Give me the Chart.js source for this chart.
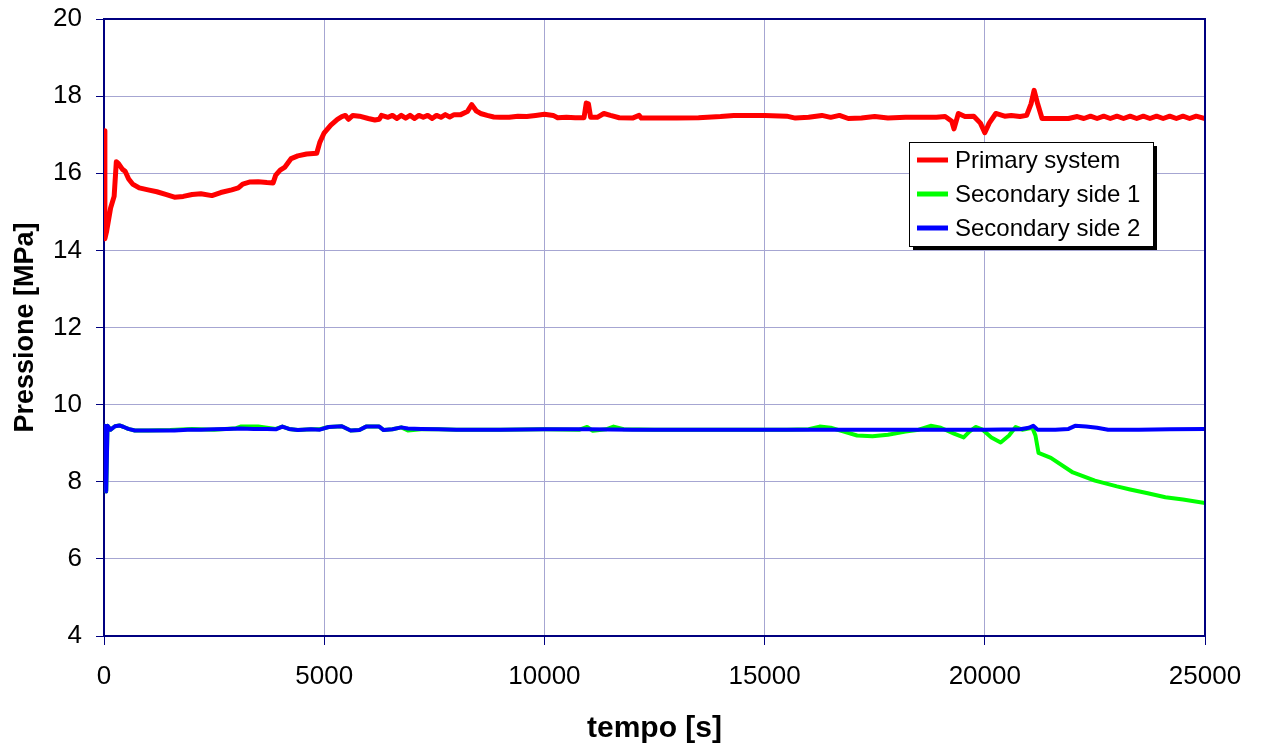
<!DOCTYPE html>
<html>
<head>
<meta charset="utf-8">
<script src="https://cdn.jsdelivr.net/npm/chart.js@4/dist/chart.umd.min.js"></script>
<style>
  html, body { margin: 0; padding: 0; background: #fff; }
  #wrap { width: 1264px; height: 749px; }
</style>
</head>
<body>
<div id="wrap"><canvas id="pressChart"></canvas></div>
<script>
// series names
const seriesNames = ['Primary system', 'Secondary side 1', 'Secondary side 2'];
const seriesColors = ['#ff0000', '#00ff00', '#0000ff'];

// axis ticks
const xTicks = [0, 5000, 10000, 15000, 20000, 25000];
const yTicks = [4, 6, 8, 10, 12, 14, 16, 18, 20];

// Primary system
const primaryT = [0, 20, 60, 150, 230, 280, 330, 420, 480, 560, 650, 800, 1000, 1200, 1400, 1600, 1800, 2000, 2200, 2450,
  2650, 2900, 3050, 3150, 3300, 3500, 3700, 3840, 3900, 4000, 4100, 4250, 4400, 4600, 4830, 4900, 5000, 5150, 5300, 5400,
  5480, 5550, 5650, 5800, 6000, 6150, 6250, 6300, 6450, 6550, 6650, 6750, 6850, 6950, 7050, 7150, 7250, 7350, 7450, 7550,
  7650, 7750, 7850, 7950, 8100, 8250, 8350, 8450, 8550, 8700, 8850, 9000, 9200, 9400, 9600, 9800, 10000, 10200, 10300, 10500,
  10700, 10900, 10950, 11000, 11050, 11200, 11350, 11500, 11700, 12000, 12150, 12200, 12500, 13000, 13500, 14000, 14300, 15000, 15500, 15700,
  16000, 16300, 16500, 16700, 16900, 17200, 17500, 17800, 18200, 18600, 18900, 19100, 19250, 19300, 19400, 19550, 19750, 19900, 20000, 20100,
  20250, 20450, 20600, 20800, 20950, 21050, 21120, 21200, 21300, 21600, 21900, 22100, 22250, 22400, 22550, 22700, 22850, 23000, 23150, 23300,
  23450, 23600, 23750, 23900, 24050, 24200, 24350, 24500, 24650, 24800, 25000];
const primaryP = [17.1, 14.3, 14.5, 15.1, 15.4, 16.3, 16.25, 16.1, 16.05, 15.85, 15.72, 15.62, 15.57, 15.52, 15.45, 15.38, 15.4, 15.45, 15.47, 15.42,
  15.5, 15.57, 15.62, 15.72, 15.77, 15.78, 15.76, 15.75, 15.95, 16.08, 16.15, 16.38, 16.45, 16.5, 16.52, 16.8, 17.05, 17.25, 17.4, 17.47,
  17.5, 17.4, 17.5, 17.48, 17.42, 17.38, 17.4, 17.5, 17.45, 17.5, 17.42, 17.5, 17.43, 17.5, 17.42, 17.5, 17.45, 17.5, 17.42, 17.5,
  17.45, 17.52, 17.46, 17.52, 17.52, 17.6, 17.78, 17.62, 17.55, 17.5, 17.46, 17.45, 17.45, 17.48, 17.47, 17.5, 17.53, 17.5, 17.44, 17.45,
  17.44, 17.44, 17.82, 17.8, 17.45, 17.45, 17.55, 17.5, 17.44, 17.43, 17.5, 17.43, 17.43, 17.43, 17.44, 17.47, 17.5, 17.5, 17.48, 17.43,
  17.45, 17.5, 17.45, 17.5, 17.42, 17.43, 17.47, 17.43, 17.45, 17.45, 17.45, 17.47, 17.35, 17.15, 17.55, 17.47, 17.48, 17.3, 17.05, 17.3,
  17.55, 17.48, 17.5, 17.47, 17.5, 17.8, 18.15, 17.8, 17.42, 17.42, 17.42, 17.47, 17.42, 17.48, 17.42, 17.48, 17.42, 17.48, 17.42, 17.48,
  17.42, 17.48, 17.42, 17.48, 17.42, 17.48, 17.42, 17.48, 17.42, 17.48, 17.42];

// Secondary side 1
const sec1T = [0, 20, 50, 80, 150, 250, 350, 450, 550, 700, 1000, 1500, 2000, 2500, 3000, 3100, 3500, 3700, 3900, 4050,
  4200, 4400, 4700, 4900, 5100, 5400, 5600, 5800, 5950, 6250, 6350, 6550, 6750, 6900, 7200, 7600, 8000, 9000, 10000, 10800,
  10970, 11100, 11400, 11570, 11800, 12500, 14000, 15500, 16000, 16250, 16500, 16800, 17100, 17450, 17800, 18200, 18500, 18770, 19000, 19300,
  19520, 19650, 19790, 19950, 20150, 20360, 20550, 20700, 20850, 21080, 21150, 21220, 21500, 22000, 22500, 23000, 23300, 23700, 24100, 24500,
  25000];
const sec1P = [9.3, 9.45, 7.75, 9.45, 9.35, 9.44, 9.46, 9.42, 9.37, 9.33, 9.33, 9.34, 9.37, 9.35, 9.39, 9.43, 9.43, 9.4, 9.37, 9.43,
  9.37, 9.34, 9.36, 9.36, 9.42, 9.44, 9.33, 9.34, 9.43, 9.43, 9.34, 9.36, 9.41, 9.33, 9.36, 9.36, 9.35, 9.35, 9.36, 9.35,
  9.42, 9.32, 9.36, 9.43, 9.36, 9.35, 9.35, 9.35, 9.36, 9.43, 9.4, 9.3, 9.2, 9.18, 9.22, 9.3, 9.35, 9.45, 9.4, 9.25,
  9.15, 9.3, 9.42, 9.35, 9.15, 9.02, 9.2, 9.42, 9.35, 9.4, 9.2, 8.75, 8.62, 8.24, 8.03, 7.88, 7.8, 7.7, 7.6, 7.54,
  7.45];

// Secondary side 2
const sec2T = [0, 20, 50, 80, 150, 250, 350, 450, 550, 700, 1000, 1300, 1600, 1900, 2200, 2500, 2800, 3100, 3400, 3700,
  3900, 4050, 4200, 4400, 4700, 4900, 5100, 5400, 5600, 5800, 5950, 6250, 6350, 6550, 6750, 6900, 7200, 7600, 8000, 9000,
  10000, 11000, 12000, 13000, 14000, 15000, 16000, 17000, 18000, 19000, 20000, 20800, 21000, 21100, 21200, 21600, 21900, 22050, 22300, 22550,
  22800, 23500, 24200, 25000];
const sec2P = [9.3, 9.45, 7.75, 9.45, 9.35, 9.44, 9.46, 9.42, 9.37, 9.33, 9.33, 9.33, 9.33, 9.35, 9.35, 9.36, 9.37, 9.38, 9.37, 9.37,
  9.36, 9.43, 9.37, 9.34, 9.36, 9.35, 9.42, 9.44, 9.33, 9.34, 9.43, 9.43, 9.34, 9.36, 9.41, 9.38, 9.37, 9.36, 9.35, 9.35,
  9.36, 9.36, 9.35, 9.35, 9.35, 9.35, 9.35, 9.35, 9.35, 9.35, 9.35, 9.36, 9.4, 9.45, 9.35, 9.35, 9.37, 9.45, 9.43, 9.4,
  9.35, 9.35, 9.36, 9.37];

const FONT = '"Liberation Sans", Arial, sans-serif';
const AXIS_NAVY = '#000080';
const GRID = '#a6a6d2';

function toPoints(ts, ps) {
  return ts.map((t, i) => ({ x: t, y: ps[i] }));
}

// top and right edges of the plot frame
const framePlugin = {
  id: 'frame',
  afterDatasetsDraw(chart) {
    const { ctx, chartArea: a } = chart;
    ctx.save();
    ctx.strokeStyle = AXIS_NAVY;
    ctx.lineWidth = 2;
    ctx.beginPath();
    ctx.moveTo(a.left, a.top);
    ctx.lineTo(a.right, a.top);
    ctx.lineTo(a.right, a.bottom);
    ctx.stroke();
    ctx.restore();
  }
};

// boxed legend with drop shadow inside the plot
const boxLegendPlugin = {
  id: 'boxLegend',
  afterDraw(chart) {
    const ctx = chart.ctx;
    const bx = 909, by = 142, bw = 244, bh = 104;
    ctx.save();
    ctx.fillStyle = '#000';
    ctx.fillRect(bx + 4, by + 4, bw, bh);
    ctx.fillStyle = '#fff';
    ctx.fillRect(bx, by, bw, bh);
    ctx.strokeStyle = '#000';
    ctx.lineWidth = 1;
    ctx.strokeRect(bx + 0.5, by + 0.5, bw, bh);
    ctx.font = '24px ' + FONT;
    ctx.textBaseline = 'middle';
    ctx.fillStyle = '#000';
    chart.data.datasets.forEach((ds, i) => {
      const y = 160 + i * 34;
      ctx.strokeStyle = ds.borderColor;
      ctx.lineWidth = 5;
      ctx.beginPath();
      ctx.moveTo(917, y);
      ctx.lineTo(948, y);
      ctx.stroke();
      ctx.fillText(ds.label, 955, y + 1);
    });
    ctx.restore();
  }
};

new Chart(document.getElementById('pressChart'), {
  type: 'scatter',
  data: {
    datasets: [
      { label: seriesNames[0], data: toPoints(primaryT, primaryP), borderColor: seriesColors[0], borderWidth: 5, order: 0 },
      { label: seriesNames[1], data: toPoints(sec1T, sec1P), borderColor: seriesColors[1], borderWidth: 4, order: 2 },
      { label: seriesNames[2], data: toPoints(sec2T, sec2P), borderColor: seriesColors[2], borderWidth: 4, order: 1 }
    ].map(ds => Object.assign(ds, { showLine: true, pointRadius: 0, tension: 0, fill: false, borderJoinStyle: 'round' }))
  },
  options: {
    responsive: true,
    maintainAspectRatio: false,
    animation: false,
    events: [],
    layout: { padding: { left: 0, right: 59, top: 19, bottom: 0 } },
    plugins: { legend: { display: false }, tooltip: { enabled: false } },
    scales: {
      x: {
        type: 'linear',
        min: 0,
        max: 25000,
        afterBuildTicks(scale) { scale.ticks = xTicks.map(v => ({ value: v })); },
        afterFit(scale) { scale.height = 113; scale.paddingLeft = 0; scale.paddingRight = 0; },
        border: { color: AXIS_NAVY, width: 2 },
        grid: { color: GRID, lineWidth: 1, tickColor: AXIS_NAVY, tickLength: 9 },
        ticks: { color: '#000', font: { family: FONT, size: 26 }, padding: 16, maxRotation: 0, autoSkip: false,
          callback: v => String(v) },
        title: { display: true, text: 'tempo [s]', color: '#000', font: { family: FONT, size: 30, weight: 'bold' }, padding: { top: 0, bottom: 2 } }
      },
      y: {
        type: 'linear',
        min: 4,
        max: 20,
        afterBuildTicks(scale) { scale.ticks = yTicks.map(v => ({ value: v })); },
        afterFit(scale) { scale.width = 104; scale.paddingTop = 0; scale.paddingBottom = 0; },
        border: { color: AXIS_NAVY, width: 2 },
        grid: { color: GRID, lineWidth: 1, tickColor: AXIS_NAVY, tickLength: 8 },
        ticks: { color: '#000', font: { family: FONT, size: 26 }, padding: 14, autoSkip: false,
          callback: v => String(v) },
        title: { display: true, text: 'Pressione [MPa]', color: '#000', font: { family: FONT, size: 27, weight: 'bold' }, padding: { top: 9, bottom: 0 } }
      }
    }
  },
  plugins: [framePlugin, boxLegendPlugin]
});
</script>
</body>
</html>
